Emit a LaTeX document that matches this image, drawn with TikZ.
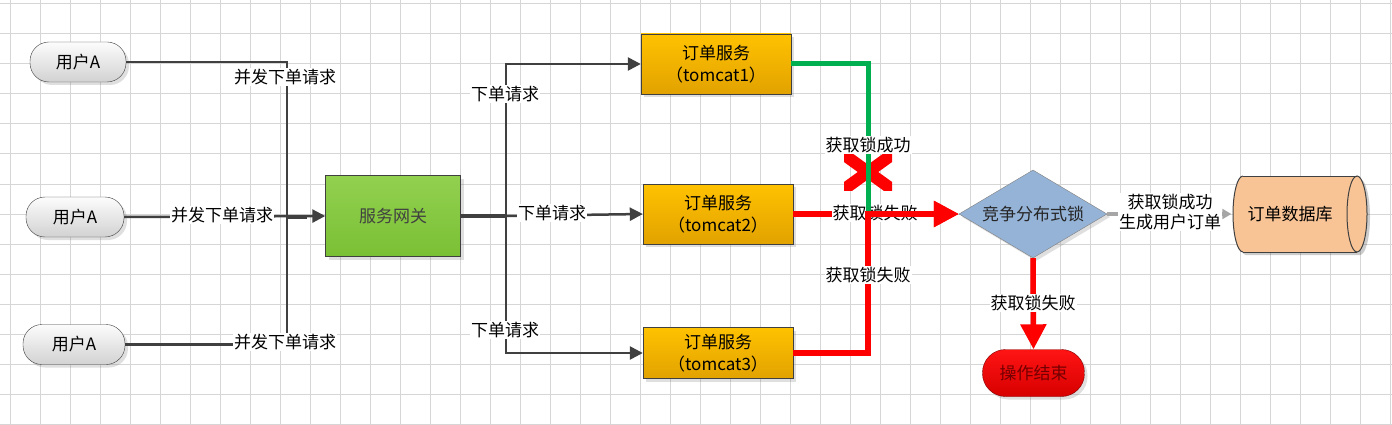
\documentclass[tikz,border=0pt]{standalone}
\usepackage{fontspec}
\setmainfont{Noto Sans CJK SC}
\usetikzlibrary{shapes.geometric, arrows.meta, shadows}

\definecolor{gridgray}{RGB}{214,214,214}
\definecolor{linegray}{RGB}{64,64,64}
\definecolor{usertop}{RGB}{252,252,252}
\definecolor{userbot}{RGB}{210,210,210}
\definecolor{gwtop}{RGB}{146,208,80}
\definecolor{gwbot}{RGB}{122,192,52}
\definecolor{svctop}{RGB}{255,194,0}
\definecolor{svcbot}{RGB}{226,162,0}
\definecolor{lockblue}{RGB}{149,179,215}
\definecolor{dbfill}{RGB}{248,196,150}
\definecolor{okgreen}{RGB}{0,176,80}
\definecolor{okgray}{RGB}{166,166,166}
\definecolor{endtop}{RGB}{255,20,20}
\definecolor{endbot}{RGB}{215,0,0}

\tikzset{
	shade/.style={drop shadow={opacity=0.25, shadow xshift=3pt, shadow yshift=-3pt}},
	user/.style={draw=linegray, top color=usertop, bottom color=userbot, rounded corners=19pt, minimum width=96pt, minimum height=40pt, shade},
	gateway/.style={draw=linegray, top color=gwtop, bottom color=gwbot, minimum width=135pt, minimum height=81pt, shade, text=linegray},
	svc/.style={draw=linegray, top color=svctop, bottom color=svcbot, minimum width=150pt, minimum height=60pt, align=center, inner sep=2pt, shade},
	lock/.style={diamond, draw=gray, fill=lockblue, minimum width=148pt, minimum height=88pt, aspect=1.7, inner sep=0pt, shade, text=black!85},
	dbase/.style={minimum width=117pt, minimum height=76pt},
	endbox/.style={draw=red!50!black, top color=endtop, bottom color=endbot, rounded corners=23pt, minimum width=102pt, minimum height=47pt, text=red!45!black, shade},
	lbl/.style={fill=white, inner sep=1pt},
	conn/.style={draw=linegray, line width=2.5pt},
	connarrow/.style={conn, -{Triangle[length=13pt, width=13pt]}},
	failline/.style={draw=red, line width=5.5pt, -{Triangle[length=25pt, width=25pt]}},
	okline/.style={draw=okgreen, line width=5pt},
	dbline/.style={draw=okgray, line width=4pt, -{Triangle[length=9pt, width=10pt]}}
}

\begin{document}
\begin{tikzpicture}[x=1pt, y=-1pt, font=\fontsize{17}{22}\selectfont]
	%background
	\useasboundingbox (0,0) rectangle (1392,425);
	\fill[white] (0,0) rectangle (1392,425);
	%grid x
	\foreach \gx in {10,40,...,1390}
		\draw[gridgray, line width=1pt] (\gx,0) -- (\gx,425);
	%grid y
	\foreach \gy in {4,34,...,424}
		\draw[gridgray, line width=1pt] (0,\gy) -- (1392,\gy);
	%
	%database body
	\fill[black, opacity=0.2] (1246,179) -- (1360,179) arc[start angle=90, end angle=-90, x radius=10pt, y radius=38pt] -- (1246,255) arc[start angle=270, end angle=90, x radius=10pt, y radius=38pt] -- cycle;
	\fill[dbfill] (1243,176) -- (1357,176) arc[start angle=90, end angle=-90, x radius=10pt, y radius=38pt] -- (1243,252) arc[start angle=270, end angle=90, x radius=10pt, y radius=38pt] -- cycle;
	\draw[linegray, line width=1pt] (1243,176) -- (1357,176) (1243,252) -- (1357,252);
	\draw[linegray, line width=1pt] (1243,176) arc[start angle=90, end angle=270, x radius=10pt, y radius=38pt];
	\draw[linegray, line width=1pt] (1357,214) ellipse [x radius=10pt, y radius=38pt];
	%
	%nodes
	\node[user] (userA1) at (78,62) {用户A};
	\node[user, minimum width=98pt] (userA2) at (75,217) {用户A};
	\node[user, minimum width=102pt] (userA3) at (74,344.5) {用户A};
	\node[gateway] (gw) at (393,216) {服务网关};
	\node[svc] (tc1) at (716,64) {订单服务\\（tomcat1）};
	\node[svc] (tc2) at (718,214) {订单服务\\（tomcat2）};
	\node[svc, minimum height=51pt] (tc3) at (718,353) {订单服务\\（tomcat3）};
	\node[lock] (lock) at (1033,214) {竞争分布式锁};
	\node[dbase] (db) at (1290,214) {订单数据库};
	\node[endbox] (done) at (1033.5,373) {操作结束};
	%
	%users to gateway
	\coordinate (join) at (287,217);
	\draw[conn] (userA1.east) -| (join);
	\draw[conn] (userA3.east) -| (join);
	\draw[connarrow] (userA2.east) -- (gw.west);
	\draw[conn, line width=4pt] (join) -- ++(20,0);
	\node[lbl] (reqA1) at (285,77) {并发下单请求};
	\node[lbl] (reqA2) at (222,215) {并发下单请求};
	\node[lbl] (reqA3) at (285,342) {并发下单请求};
	%
	%gateway to services
	\coordinate (fork) at (506,216);
	\draw[conn, line width=4pt] (gw.east) -- (fork);
	\draw[connarrow] (fork) |- (tc1.west);
	\draw[connarrow] (fork) -- (tc2.west);
	\draw[connarrow] (fork) |- (tc3.west);
	\node[lbl] (req1) at (505,94) {下单请求};
	\node[lbl] (req2) at (552,213) {下单请求};
	\node[lbl] (req3) at (505,330) {下单请求};
	%
	%services to lock
	\coordinate (merge) at (868,214);
	\draw[failline] (tc2.east) -- (lock.west);
	\node[lbl] (fail2) at (875,213) {获取锁失败};
	\begin{scope}
		\clip (844,154) rectangle (892,190);
		\draw[red, line width=12pt] (832,146) -- (904,198);
		\draw[red, line width=12pt] (832,198) -- (904,146);
	\end{scope}
	\draw[okline] (tc1.east) -| (merge);
	\node[lbl] (win1) at (868,145) {获取锁成功};
	\draw[failline] (tc3.east) -| (merge) -- (lock.west);
	\node[lbl] (fail3) at (868,275) {获取锁失败};
	%
	%lock results
	\draw[failline] (lock.south) -- (done.north);
	\node[lbl] (failend) at (1033,303) {获取锁失败};
	\draw[dbline] (lock.east) -- (db.west);
	\node[lbl, align=center, font=\fontsize{17}{20}\selectfont] (wins) at (1170,212) {获取锁成功\\生成用户订单};
\end{tikzpicture}
\end{document}
